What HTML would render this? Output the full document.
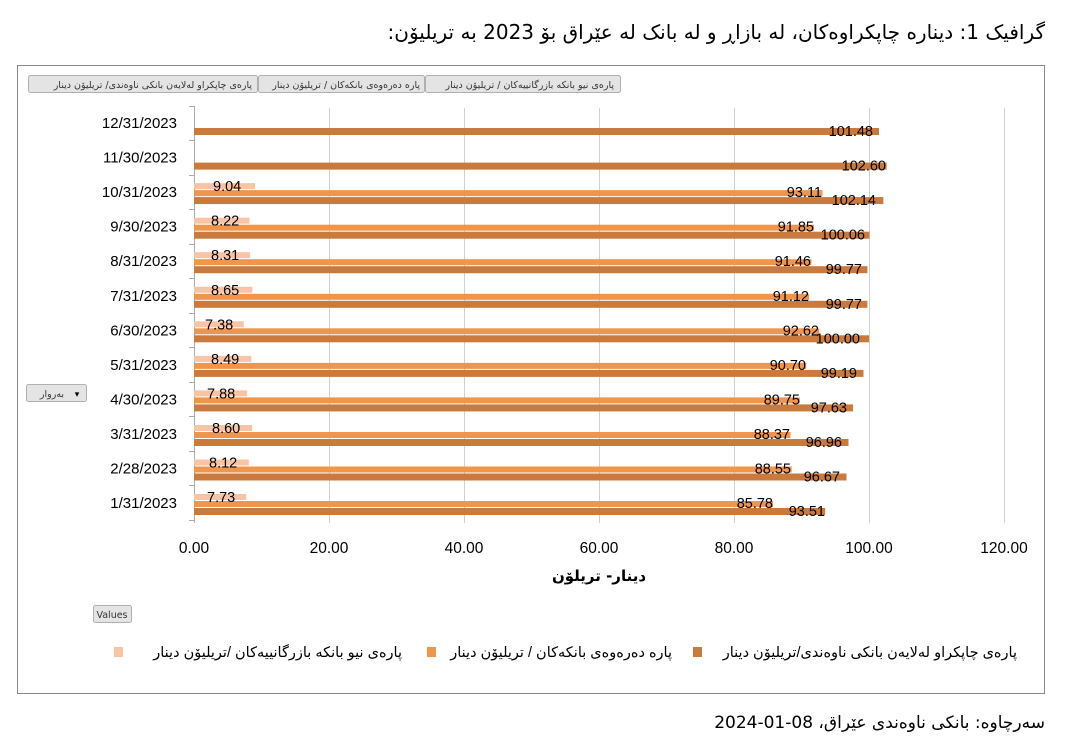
<!DOCTYPE html>
<html><head><meta charset="utf-8"><style>
body{margin:0;background:#fff;width:1073px;height:746px;overflow:hidden;position:relative}
svg{display:block}
text{font-family:"Liberation Sans","DejaVu Sans",sans-serif}
.v{font-size:14.5px;fill:#000}
.c{font-size:15px;fill:#000;text-anchor:end}
.x{font-size:15.5px;fill:#000;text-anchor:middle}
.btn{fill:#e4e4e4;stroke:#b0b0b0}
.bt{font-size:9.5px;fill:#333;font-family:"DejaVu Sans",sans-serif}
.L{fill:#F8C4A6}.M{fill:#F0964C}.D{fill:#C97A3C}
#t{position:absolute;right:28px;top:20px;font:20px "DejaVu Sans",sans-serif;direction:rtl;white-space:nowrap;color:#000}
</style></head><body>
<div id="t">گرافیک 1: دیناره چاپکراوەکان، لە بازاڕ و لە بانک لە عێراق بۆ 2023 بە تریلیۆن:</div>
<svg width="1073" height="746" viewBox="0 0 1073 746">
<rect x="17.5" y="65.5" width="1027" height="628" fill="#fff" stroke="#888"/>
<rect class="btn" x="28.5" y="75.5" width="229" height="17" rx="2"/>
<rect class="btn" x="258.5" y="75.5" width="166" height="17" rx="2"/>
<rect class="btn" x="425.5" y="75.5" width="195" height="17" rx="2"/>
<text class="bt" x="252" y="88" text-anchor="end">پارەی چاپکراو لەلایەن بانکی ناوەندی/ تریلیۆن دینار</text>
<text class="bt" x="420" y="88" text-anchor="end">پارە دەرەوەی بانکەکان / تریلیۆن دینار</text>
<text class="bt" x="614" y="88" text-anchor="end">پارەی نیو بانکە بازرگانییەکان / تریلیۆن  دینار</text>
<g stroke="#d0d0d0" stroke-width="1">
<line x1="329.5" y1="108" x2="329.5" y2="523"/><line x1="464.5" y1="108" x2="464.5" y2="523"/>
<line x1="599.5" y1="108" x2="599.5" y2="523"/><line x1="734.5" y1="108" x2="734.5" y2="523"/>
<line x1="869.5" y1="108" x2="869.5" y2="523"/><line x1="1004.5" y1="108" x2="1004.5" y2="523"/>
</g>
<g stroke="#aaa">
<line x1="194.5" y1="106" x2="194.5" y2="523"/>
<line x1="189" y1="106.5" x2="194" y2="106.5"/><line x1="189" y1="140.5" x2="194" y2="140.5"/><line x1="189" y1="175.5" x2="194" y2="175.5"/><line x1="189" y1="209.5" x2="194" y2="209.5"/><line x1="189" y1="244.5" x2="194" y2="244.5"/><line x1="189" y1="278.5" x2="194" y2="278.5"/><line x1="189" y1="313.5" x2="194" y2="313.5"/><line x1="189" y1="347.5" x2="194" y2="347.5"/><line x1="189" y1="382.5" x2="194" y2="382.5"/><line x1="189" y1="416.5" x2="194" y2="416.5"/><line x1="189" y1="451.5" x2="194" y2="451.5"/><line x1="189" y1="485.5" x2="194" y2="485.5"/><line x1="189" y1="520.5" x2="194" y2="520.5"/>
</g>
<g>
<g transform="translate(0,123)"><text class="c" x="177" y="5">12/31/2023</text><rect class="D" x="194" y="5" width="685" height="7"/><text class="v" x="873" y="13" text-anchor="end">101.48</text></g>
<g transform="translate(0,157.6)"><text class="c" x="177" y="5">11/30/2023</text><rect class="D" x="194" y="5" width="692.6" height="7"/><text class="v" x="886" y="13" text-anchor="end">102.60</text></g>
<g transform="translate(0,192.1)"><text class="c" x="177" y="5">10/31/2023</text><rect class="L" x="194" y="-9" width="61" height="6"/><rect class="M" x="194" y="-2" width="628.5" height="6"/><rect class="D" x="194" y="5" width="689.4" height="7"/><text class="v" x="213" y="-1">9.04</text><text class="v" x="822" y="5" text-anchor="end">93.11</text><text class="v" x="876" y="13" text-anchor="end">102.14</text></g>
<g transform="translate(0,226.7)"><text class="c" x="177" y="5">9/30/2023</text><rect class="L" x="194" y="-9" width="55.5" height="6"/><rect class="M" x="194" y="-2" width="620" height="6"/><rect class="D" x="194" y="5" width="675.4" height="7"/><text class="v" x="211" y="-1">8.22</text><text class="v" x="814" y="5" text-anchor="end">91.85</text><text class="v" x="865" y="13" text-anchor="end">100.06</text></g>
<g transform="translate(0,261.2)"><text class="c" x="177" y="5">8/31/2023</text><rect class="L" x="194" y="-9" width="56.1" height="6"/><rect class="M" x="194" y="-2" width="617.4" height="6"/><rect class="D" x="194" y="5" width="673.4" height="7"/><text class="v" x="211" y="-1">8.31</text><text class="v" x="811" y="5" text-anchor="end">91.46</text><text class="v" x="862" y="13" text-anchor="end">99.77</text></g>
<g transform="translate(0,295.8)"><text class="c" x="177" y="5">7/31/2023</text><rect class="L" x="194" y="-9" width="58.4" height="6"/><rect class="M" x="194" y="-2" width="615.1" height="6"/><rect class="D" x="194" y="5" width="673.4" height="7"/><text class="v" x="211" y="-1">8.65</text><text class="v" x="809" y="5" text-anchor="end">91.12</text><text class="v" x="862" y="13" text-anchor="end">99.77</text></g>
<g transform="translate(0,330.3)"><text class="c" x="177" y="5">6/30/2023</text><rect class="L" x="194" y="-9" width="49.8" height="6"/><rect class="M" x="194" y="-2" width="625.2" height="6"/><rect class="D" x="194" y="5" width="675" height="7"/><text class="v" x="205" y="-1">7.38</text><text class="v" x="819" y="5" text-anchor="end">92.62</text><text class="v" x="860" y="13" text-anchor="end">100.00</text></g>
<g transform="translate(0,364.9)"><text class="c" x="177" y="5">5/31/2023</text><rect class="L" x="194" y="-9" width="57.3" height="6"/><rect class="M" x="194" y="-2" width="612.2" height="6"/><rect class="D" x="194" y="5" width="669.5" height="7"/><text class="v" x="211" y="-1">8.49</text><text class="v" x="806" y="5" text-anchor="end">90.70</text><text class="v" x="857" y="13" text-anchor="end">99.19</text></g>
<g transform="translate(0,399.4)"><text class="c" x="177" y="5">4/30/2023</text><rect class="L" x="194" y="-9" width="53.2" height="6"/><rect class="M" x="194" y="-2" width="605.8" height="6"/><rect class="D" x="194" y="5" width="659" height="7"/><text class="v" x="207" y="-1">7.88</text><text class="v" x="800" y="5" text-anchor="end">89.75</text><text class="v" x="847" y="13" text-anchor="end">97.63</text></g>
<g transform="translate(0,434)"><text class="c" x="177" y="5">3/31/2023</text><rect class="L" x="194" y="-9" width="58.1" height="6"/><rect class="M" x="194" y="-2" width="596.5" height="6"/><rect class="D" x="194" y="5" width="654.5" height="7"/><text class="v" x="212" y="-1">8.60</text><text class="v" x="790" y="5" text-anchor="end">88.37</text><text class="v" x="842" y="13" text-anchor="end">96.96</text></g>
<g transform="translate(0,468.5)"><text class="c" x="177" y="5">2/28/2023</text><rect class="L" x="194" y="-9" width="54.8" height="6"/><rect class="M" x="194" y="-2" width="597.7" height="6"/><rect class="D" x="194" y="5" width="652.5" height="7"/><text class="v" x="209" y="-1">8.12</text><text class="v" x="791" y="5" text-anchor="end">88.55</text><text class="v" x="840" y="13" text-anchor="end">96.67</text></g>
<g transform="translate(0,503)"><text class="c" x="177" y="5">1/31/2023</text><rect class="L" x="194" y="-9" width="52.2" height="6"/><rect class="M" x="194" y="-2" width="579" height="6"/><rect class="D" x="194" y="5" width="631.2" height="7"/><text class="v" x="207" y="-1">7.73</text><text class="v" x="773" y="5" text-anchor="end">85.78</text><text class="v" x="825" y="13" text-anchor="end">93.51</text></g>
</g>
<text class="x" x="194" y="553">0.00</text><text class="x" x="329" y="553">20.00</text><text class="x" x="464" y="553">40.00</text><text class="x" x="599" y="553">60.00</text><text class="x" x="734" y="553">80.00</text><text class="x" x="869" y="553">100.00</text><text class="x" x="1004" y="553">120.00</text>
<text x="599" y="581" text-anchor="middle" style="font-size:15px;font-weight:bold;font-family:'DejaVu Sans',sans-serif">دینار- تریلۆن</text>
<rect class="btn" x="26.5" y="384.5" width="60" height="17" rx="2"/>
<text class="bt" x="52" y="397" text-anchor="middle">بەروار</text><text x="77" y="397" style="font-size:9px" text-anchor="middle">▾</text>
<rect class="btn" x="93.5" y="605.5" width="38" height="17" rx="2"/>
<text class="bt" x="112" y="618" text-anchor="middle">Values</text>
<g style="font-size:14.5px;font-family:'DejaVu Sans',sans-serif" text-anchor="end">
<rect class="D" x="693" y="647" width="9" height="10"/>
<text x="1017" y="657">پارەی چاپکراو لەلایەن بانکی ناوەندی/تریلیۆن دینار</text>
<rect class="M" x="427" y="647" width="9" height="10"/>
<text x="672" y="657">پارە دەرەوەی بانکەکان / تریلیۆن دینار</text>
<rect class="L" x="114" y="647" width="9" height="10"/>
<text x="402" y="657">پارەی نیو بانکە بازرگانییەکان /تریلیۆن  دینار</text>
</g>
<text x="1045" y="728" text-anchor="end" style="font-size:17px;font-family:'DejaVu Sans',sans-serif">سەرچاوە: بانکی ناوەندی عێراق، 08-01-2024</text>
</svg>
</body></html>
